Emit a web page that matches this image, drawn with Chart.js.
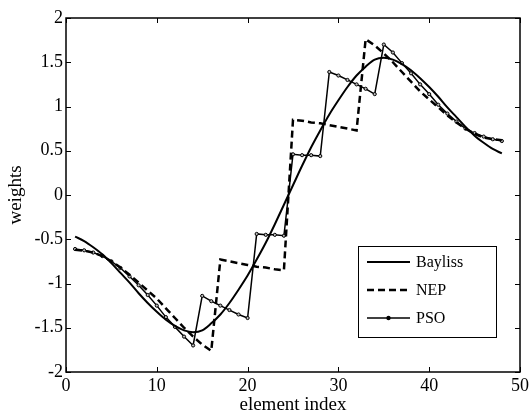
<!DOCTYPE html>
<html>
<head>
<meta charset="utf-8">
<script src="https://cdn.jsdelivr.net/npm/chart.js@4/dist/chart.umd.min.js"></script>
<style>
  body { margin: 0; background: #fff; }
  canvas { display: block; }
</style>
</head>
<body>
<canvas id="myChart" width="532" height="416"></canvas>
<script>
// element index 1..48
const elementIndex = [];
for (let i = 1; i <= 48; i++) elementIndex.push(i);

const bayliss = [
  -0.47, -0.52, -0.59, -0.67, -0.77, -0.88, -0.99, -1.11, -1.22, -1.32,
  -1.41, -1.48, -1.53, -1.55, -1.53, -1.45, -1.35, -1.22, -1.07, -0.91,
  -0.73, -0.54, -0.33, -0.11, 0.11, 0.33, 0.54, 0.73, 0.91, 1.07,
  1.22, 1.35, 1.45, 1.53, 1.55, 1.53, 1.48, 1.41, 1.32, 1.22,
  1.11, 0.99, 0.88, 0.77, 0.67, 0.59, 0.52, 0.47
];

const nep = [
  -0.62, -0.63, -0.65, -0.69, -0.75, -0.82, -0.90, -0.99, -1.08, -1.17,
  -1.28, -1.39, -1.50, -1.60, -1.69, -1.76, -0.73, -0.75, -0.77, -0.79,
  -0.81, -0.82, -0.84, -0.85, 0.85, 0.84, 0.82, 0.81, 0.79, 0.77,
  0.75, 0.73, 1.76, 1.69, 1.60, 1.50, 1.39, 1.28, 1.17, 1.08,
  0.99, 0.90, 0.82, 0.75, 0.69, 0.65, 0.63, 0.62
];

const pso = [
  -0.61, -0.625, -0.65, -0.69, -0.75, -0.825, -0.92, -1.02, -1.13, -1.25,
  -1.38, -1.49, -1.60, -1.70, -1.14, -1.20, -1.25, -1.30, -1.35, -1.39,
  -0.44, -0.45, -0.45, -0.46, 0.46, 0.45, 0.45, 0.44, 1.39, 1.35,
  1.30, 1.25, 1.20, 1.14, 1.70, 1.61, 1.49, 1.375, 1.25, 1.14,
  1.02, 0.92, 0.83, 0.75, 0.70, 0.66, 0.63, 0.61
];

const xTicks = [0, 10, 20, 30, 40, 50];
const yTicks = [-2, -1.5, -1, -0.5, 0, 0.5, 1, 1.5, 2];
const yTickLabels = ['-2', '-1.5', '-1', '-0.5', '0', '0.5', '1', '1.5', '2'];

const FONT = "'Liberation Serif', 'Times New Roman', serif";

function toPoints(ys) {
  return ys.map((y, i) => ({ x: elementIndex[i], y: y }));
}

// frame, inward ticks on all four sides, and the legend box
const framePlugin = {
  id: 'frame',
  afterDraw(chart) {
    const ctx = chart.ctx;
    const a = chart.chartArea;
    const xs = chart.scales.x, ys = chart.scales.y;
    ctx.save();
    ctx.strokeStyle = '#000';
    ctx.lineWidth = 1.5;
    ctx.strokeRect(a.left, a.top, a.right - a.left, a.bottom - a.top);
    ctx.lineWidth = 1;
    const t = 5;
    ctx.beginPath();
    xTicks.forEach(v => {
      const px = Math.round(xs.getPixelForValue(v)) + 0.5;
      ctx.moveTo(px, a.bottom); ctx.lineTo(px, a.bottom - t);
      ctx.moveTo(px, a.top); ctx.lineTo(px, a.top + t);
    });
    yTicks.forEach(v => {
      const py = Math.round(ys.getPixelForValue(v)) + 0.5;
      ctx.moveTo(a.left, py); ctx.lineTo(a.left + t, py);
      ctx.moveTo(a.right, py); ctx.lineTo(a.right - t, py);
    });
    ctx.stroke();

    // legend
    const bx = 358, by = 246, bw = 138, bh = 91;
    ctx.fillStyle = '#fff';
    ctx.fillRect(bx, by, bw, bh);
    ctx.lineWidth = 1;
    ctx.strokeRect(bx + 0.5, by + 0.5, bw, bh);
    ctx.font = '16px ' + FONT;
    ctx.textBaseline = 'middle';
    chart.data.datasets.forEach((ds, i) => {
      const ry = by + 16 + i * 28;
      ctx.strokeStyle = '#000';
      ctx.lineWidth = ds.borderWidth;
      ctx.setLineDash(ds.borderDash || []);
      ctx.beginPath();
      ctx.moveTo(bx + 9, ry); ctx.lineTo(bx + 52, ry);
      ctx.stroke();
      ctx.setLineDash([]);
      if (ds.pointRadius > 0) {
        ctx.fillStyle = '#000';
        ctx.beginPath();
        ctx.arc(bx + 30.5, ry, 2.2, 0, Math.PI * 2);
        ctx.fill();
      }
      ctx.fillStyle = '#000';
      ctx.fillText(ds.label, bx + 58, ry + 1);
    });
    ctx.restore();
  }
};

const ctx = document.getElementById('myChart').getContext('2d');
new Chart(ctx, {
  type: 'line',
  data: {
    datasets: [
      {
        label: 'Bayliss',
        data: toPoints(bayliss),
        borderColor: '#000',
        borderWidth: 2,
        pointRadius: 0,
        cubicInterpolationMode: 'monotone',
        fill: false
      },
      {
        label: 'NEP',
        data: toPoints(nep),
        borderColor: '#000',
        borderWidth: 2.5,
        borderDash: [7, 4],
        pointRadius: 0,
        tension: 0,
        fill: false
      },
      {
        label: 'PSO',
        data: toPoints(pso),
        borderColor: '#000',
        borderWidth: 1.5,
        pointRadius: 1.6,
        pointBorderWidth: 1,
        pointBorderColor: '#000',
        pointBackgroundColor: '#bbb',
        tension: 0,
        fill: false
      }
    ]
  },
  options: {
    responsive: false,
    animation: false,
    layout: { padding: { top: 18, right: 11, left: 0, bottom: 0 } },
    plugins: {
      legend: { display: false },
      tooltip: { enabled: false }
    },
    scales: {
      x: {
        type: 'linear',
        min: 0,
        max: 50,
        afterFit(scale) { scale.height = 44; },
        afterBuildTicks(scale) { scale.ticks = xTicks.map(v => ({ value: v })); },
        grid: { display: false, drawTicks: false },
        border: { display: false },
        ticks: {
          color: '#000',
          padding: 3,
          font: { family: FONT, size: 18 },
          maxRotation: 0,
          callback: v => String(v)
        },
        title: {
          display: true,
          text: 'element index',
          color: '#000',
          font: { family: FONT, size: 19 },
          padding: { top: 0, bottom: 0 }
        }
      },
      y: {
        type: 'linear',
        min: -2,
        max: 2,
        afterFit(scale) { scale.width = 66; },
        afterBuildTicks(scale) { scale.ticks = yTicks.map(v => ({ value: v })); },
        grid: { display: false, drawTicks: false },
        border: { display: false },
        ticks: {
          color: '#000',
          padding: 3,
          font: { family: FONT, size: 18 },
          callback: v => yTickLabels[yTicks.indexOf(v)]
        },
        title: {
          display: true,
          text: 'weights',
          color: '#000',
          font: { family: FONT, size: 19 },
          padding: { top: 5, bottom: 0 }
        }
      }
    }
  },
  plugins: [framePlugin]
});
</script>
</body>
</html>
